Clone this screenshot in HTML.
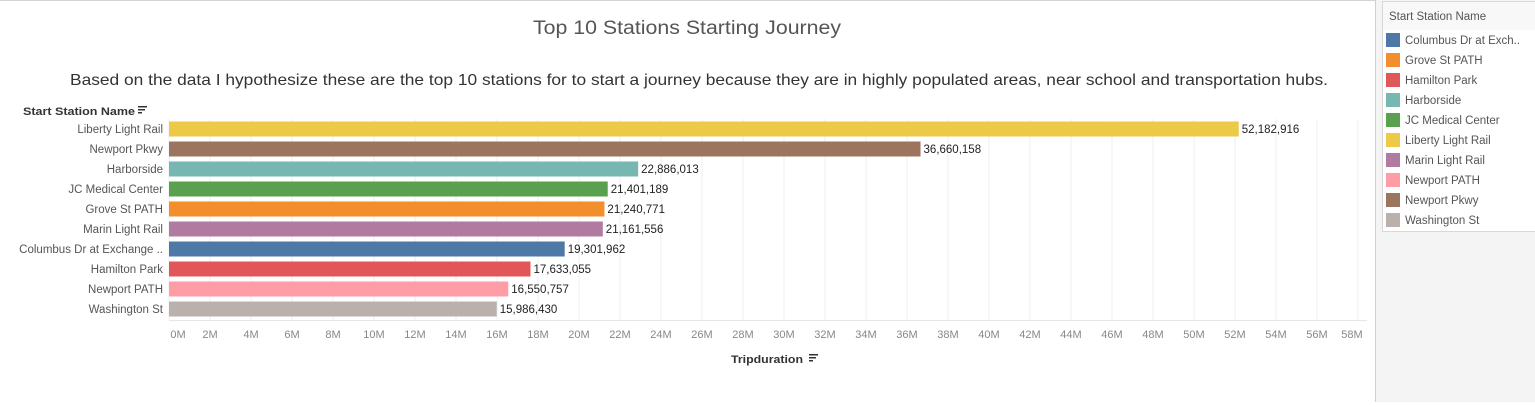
<!DOCTYPE html>
<html><head><meta charset="utf-8"><style>
body{margin:0;width:1535px;height:402px;overflow:hidden;background:#fff;font-family:"Liberation Sans",sans-serif;}
</style></head><body>
<svg id="chart" width="1535" height="402" xmlns="http://www.w3.org/2000/svg">
<rect x="0" y="0" width="1375" height="1" fill="#d4d4d4"/>
<rect x="1375" y="0" width="160" height="402" fill="#f4f4f4"/>
<rect x="1375" y="0" width="1" height="402" fill="#d0d0d0"/>
<text x="687" y="34" text-anchor="middle" font-size="19" fill="#555" textLength="308" lengthAdjust="spacingAndGlyphs">Top 10 Stations Starting Journey</text>
<text x="70" y="85" font-size="16" fill="#333" textLength="1258" lengthAdjust="spacingAndGlyphs">Based on the data I hypothesize these are the top 10 stations for to start a journey because they are in highly populated areas, near school and transportation hubs.</text>
<text x="23" y="115" font-size="11" font-weight="bold" fill="#333" textLength="112" lengthAdjust="spacingAndGlyphs">Start Station Name</text>
<g><rect x="138" y="106" width="9" height="1.5" fill="#333"/><rect x="138" y="109" width="7" height="1.5" fill="#333"/><rect x="138" y="112" width="4" height="1.5" fill="#333"/></g>
<g id="grid"></g><g id="bars"></g><g id="ticks"></g><g id="legend"></g>
<text x="767" y="363" text-anchor="middle" font-size="11" font-weight="bold" fill="#333" textLength="72" lengthAdjust="spacingAndGlyphs">Tripduration</text>
<g><rect x="809" y="354" width="9" height="1.5" fill="#333"/><rect x="809" y="357" width="7" height="1.5" fill="#333"/><rect x="809" y="360" width="4" height="1.5" fill="#333"/></g>
</svg>
<script>
const categories=["Liberty Light Rail","Newport Pkwy","Harborside","JC Medical Center","Grove St PATH","Marin Light Rail","Columbus Dr at Exchange ..","Hamilton Park","Newport PATH","Washington St"];
const values=[52182916,36660158,22886013,21401189,21240771,21161556,19301962,17633055,16550757,15986430];
const colors=["#edc948","#9c755f","#76b7b2","#59a14f","#f28e2b","#b07aa1","#4e79a7","#e15759","#ff9da7","#bab0ac"];
const tickValues=[0,2,4,6,8,10,12,14,16,18,20,22,24,26,28,30,32,34,36,38,40,42,44,46,48,50,52,54,56,58];
const legendLabels=["Columbus Dr at Exch..","Grove St PATH","Hamilton Park","Harborside","JC Medical Center","Liberty Light Rail","Marin Light Rail","Newport PATH","Newport Pkwy","Washington St"];
const legendColors=["#4e79a7","#f28e2b","#e15759","#76b7b2","#59a14f","#edc948","#b07aa1","#ff9da7","#9c755f","#bab0ac"];
const NS="http://www.w3.org/2000/svg";
const x=v=>169+v*20.5/1e6;
const y=i=>129+i*20;
function mk(t,a,p){const e=document.createElementNS(NS,t);for(const k in a)e.setAttribute(k,a[k]);p.appendChild(e);return e;}
const grid=document.getElementById('grid'),bars=document.getElementById('bars'),ticks=document.getElementById('ticks'),leg=document.getElementById('legend');
tickValues.forEach((t,i)=>{
 const gx=x(t*1e6);
 const l=mk('line',{x1:gx,x2:gx,y1:119,y2:320,stroke:'#efefef','stroke-width':1},grid);
 
 
 let lx=gx; if(i===0)lx=gx+9; if(i===tickValues.length-1)lx=gx-6;
 const tx=mk('text',{x:lx,y:338,'text-anchor':'middle','font-size':11,fill:'#888'},ticks);
 tx.textContent=t+'M';
 
 
});
const ax=mk('line',{x1:169,x2:1367,y1:320.5,y2:320.5,stroke:'#e6e6e6'},grid);


categories.forEach((c,i)=>{
 const cy=y(i);
 const r=mk('rect',{x:169,y:cy-7.5,width:x(values[i])-169,height:15,fill:colors[i]},bars);
 
 
 const lb=mk('text',{x:163,y:cy+4,'text-anchor':'end','font-size':11.5,fill:'#555'},bars);
 lb.textContent=c;
 
 
 const v=mk('text',{x:x(values[i])+3,y:cy+4,'font-size':11.5,fill:'#222'},bars);
 v.textContent=values[i].toLocaleString('en-US');
 
 
});
const lb=mk('rect',{x:1382.5,y:1.5,width:160,height:230,fill:'#fff',stroke:'#d8d8d8'},leg);


const lh=mk('rect',{x:1383,y:2,width:152,height:28,fill:'#f8f8f8'},leg);


const lt=mk('text',{x:1389,y:20,'font-size':11.5,fill:'#555'},leg);
lt.textContent='Start Station Name';


legendLabels.forEach((n,i)=>{
 const cy=40+i*20;
 const g=mk('g',{},leg);
 
 
 mk('rect',{x:1386,y:cy-7,width:14,height:14,fill:legendColors[i]},g);
 const t=mk('text',{x:1405,y:cy+4,'font-size':11.5,fill:'#555'},g);
 t.textContent=n;
});
</script>
</body></html>
